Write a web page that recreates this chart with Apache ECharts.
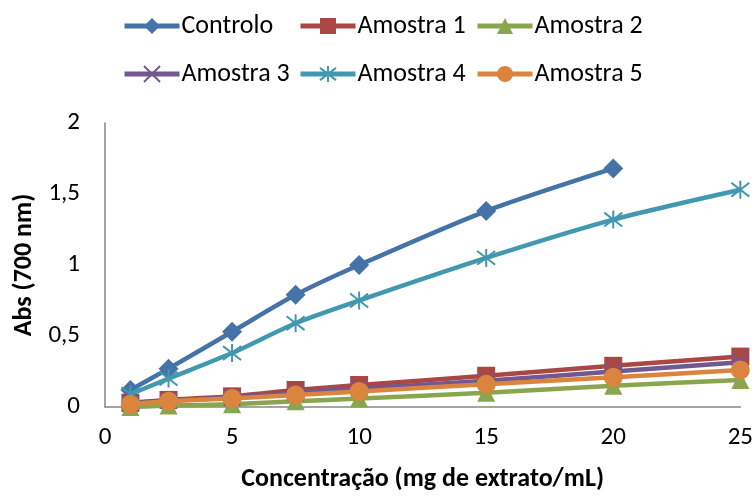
<!DOCTYPE html>
<html>
<head>
<meta charset="utf-8">
<script src="https://cdn.jsdelivr.net/npm/echarts@6/dist/echarts.min.js"></script>
<style>
html,body{margin:0;padding:0;background:#fff;}
#chart{width:756px;height:497px;}
</style>
</head>
<body>
<div id="chart"></div>
<script>
var concentrations = [1, 2.5, 5, 7.5, 10, 15, 20, 25];
var controlo = [0.12, 0.27, 0.53, 0.79, 1.0, 1.38, 1.68];
var amostra1 = [0.03, 0.05, 0.075, 0.12, 0.155, 0.22, 0.29, 0.355];
var amostra2 = [0.0, 0.01, 0.02, 0.04, 0.06, 0.10, 0.15, 0.19];
var amostra3 = [0.025, 0.045, 0.065, 0.10, 0.13, 0.185, 0.25, 0.315];
var amostra4 = [0.09, 0.2, 0.38, 0.59, 0.75, 1.05, 1.32, 1.53];
var amostra5 = [0.02, 0.04, 0.06, 0.085, 0.11, 0.16, 0.21, 0.26];
var seriesNames = ['Controlo', 'Amostra 1', 'Amostra 2', 'Amostra 3', 'Amostra 4', 'Amostra 5'];
var yTicks = [0, 0.5, 1, 1.5, 2];
var xTicks = [0, 5, 10, 15, 20, 25];

var FONT = 'Carlito, Lato, sans-serif';
var colors = ['#4572A7', '#AA4643', '#89A54E', '#71588F', '#4198AF', '#DB843D'];
var symbols = [
  'diamond', 'rect', 'triangle',
  'path://M0,0L10,10M10,0L0,10',
  'path://M0,0L10,10M10,0L0,10M5,-1.5L5,11.5',
  'circle'
];
var sizes = [20, 18, 18, 16, 18, 19];
var allData = [controlo, amostra1, amostra2, amostra3, amostra4, amostra5];

function pairs(arr) {
  return arr.map(function (v, i) { return [concentrations[i], v]; });
}

var series = allData.map(function (d, i) {
  var isPath = symbols[i].indexOf('path://') === 0;
  return {
    name: seriesNames[i],
    type: 'line',
    data: pairs(d),
    smooth: 0.25,
    symbol: symbols[i],
    symbolSize: sizes[i],
    lineStyle: { color: colors[i], width: 4.5 },
    itemStyle: isPath
      ? { color: colors[i], borderColor: colors[i], borderWidth: 2 }
      : { color: colors[i] },
    z: 2 + i,
    animation: false
  };
});

var legendLefts = [122, 298, 475, 122, 298, 475];
var legendTops = [13, 13, 13, 61, 61, 61];
var legends = seriesNames.map(function (n, i) {
  return {
    data: [n],
    left: legendLefts[i],
    top: legendTops[i],
    itemWidth: 55,
    itemHeight: 20,
    itemGap: 0,
    padding: 0,
    lineStyle: { width: 5 },
    textStyle: { fontFamily: FONT, fontSize: 26, color: '#000', padding: [0, 0, 0, -3] },
    selectedMode: false
  };
});

var chart = echarts.init(document.getElementById('chart'), null, { renderer: 'canvas' });
chart.setOption({
  backgroundColor: '#fff',
  animation: false,
  legend: legends,
  grid: { left: 105, right: 14, top: 123, bottom: 88, containLabel: false },
  xAxis: {
    type: 'value',
    min: xTicks[0],
    max: xTicks[xTicks.length - 1],
    interval: 5,
    name: 'Concentração (mg de extrato/mL)',
    nameLocation: 'middle',
    nameGap: 59,
    nameTextStyle: { fontFamily: FONT, fontSize: 26, fontWeight: 'bold', color: '#000' },
    axisLine: { lineStyle: { color: '#868686', width: 1.5 } },
    axisTick: { show: false },
    splitLine: { show: false },
    axisLabel: { fontFamily: FONT, fontSize: 25, color: '#000', margin: 18 }
  },
  yAxis: {
    type: 'value',
    min: yTicks[0],
    max: yTicks[yTicks.length - 1],
    interval: 0.5,
    name: 'Abs (700 nm)',
    nameLocation: 'middle',
    nameGap: 64,
    nameRotate: 90,
    nameTextStyle: { fontFamily: FONT, fontSize: 26, fontWeight: 'bold', color: '#000' },
    axisLine: { show: true, lineStyle: { color: '#868686', width: 1.5 } },
    axisTick: { show: false },
    splitLine: { show: false },
    axisLabel: {
      fontFamily: FONT, fontSize: 25, color: '#000', margin: 25,
      formatter: function (v) { return String(v).replace('.', ','); }
    }
  },
  series: series
});
</script>
</body>
</html>
